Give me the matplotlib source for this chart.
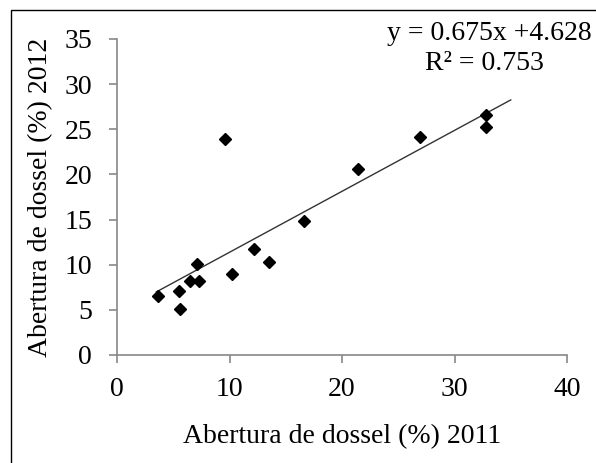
import matplotlib
matplotlib.use("Agg")
import matplotlib.pyplot as plt
import numpy as np
from matplotlib.patches import Rectangle

plt.rcParams['font.family'] = ['Liberation Serif', 'DejaVu Serif']

# Canopy openness (%) measured in 2011 and 2012
x_2011 = [3.6, 5.5, 5.6, 6.5, 7.3, 7.1, 9.6, 10.2, 12.2, 13.5, 16.6, 21.4, 26.9, 32.8, 32.8]
y_2012 = [6.5, 7.1, 5.1, 8.2, 8.2, 10.1, 23.9, 9.0, 11.7, 10.3, 14.8, 20.6, 24.2, 26.6, 25.2]

slope = 0.675
intercept = 4.628
r2 = 0.753
fit_range = [3.5, 35.0]

x_ticks = [0, 10, 20, 30, 40]
y_ticks = [0, 5, 10, 15, 20, 25, 30, 35]

fig = plt.figure(figsize=(5.96, 4.63), dpi=100)
ax = fig.add_axes([117/596, 1 - 355/463, 450/596, 316/463])

xf = np.array(fit_range)
ax.plot(xf, slope * xf + intercept, color='#333333', lw=1.0, zorder=2)
ax.plot(x_2011, y_2012, linestyle='none', marker='D', ms=6,
        color='black', zorder=3)

ax.set_xlim(0, 40)
ax.set_ylim(0, 35)
ax.set_xticks(x_ticks)
ax.set_yticks(y_ticks)
for s in ['top', 'right']:
    ax.spines[s].set_visible(False)
for s in ['left', 'bottom']:
    ax.spines[s].set_color('#888888')
    ax.spines[s].set_linewidth(1.2)
ax.tick_params(axis='both', direction='out', length=6, width=1.2,
               color='#888888', labelsize=20)
ax.tick_params(axis='y', pad=12)
ax.tick_params(axis='x', pad=10)

ax.set_xlabel('Abertura de dossel (%) 2011', fontsize=20, labelpad=16)
ax.set_ylabel('Abertura de dossel (%) 2012', fontsize=20, labelpad=8)

fig.text(592/596, 1 - 33/463, f'y = {slope}x +{intercept}', fontsize=20,
         ha='right', va='center')
fig.text(484/596, 1 - 63/463, f'R² = {r2}', fontsize=20,
         ha='center', va='center')

# outer frame
fig.patches.append(Rectangle((11/596, -0.1), 1.2, 1.1 - 10/463,
                             transform=fig.transFigure, fill=False,
                             edgecolor='black', lw=1.0))

fig.savefig('out.png', dpi=100)
